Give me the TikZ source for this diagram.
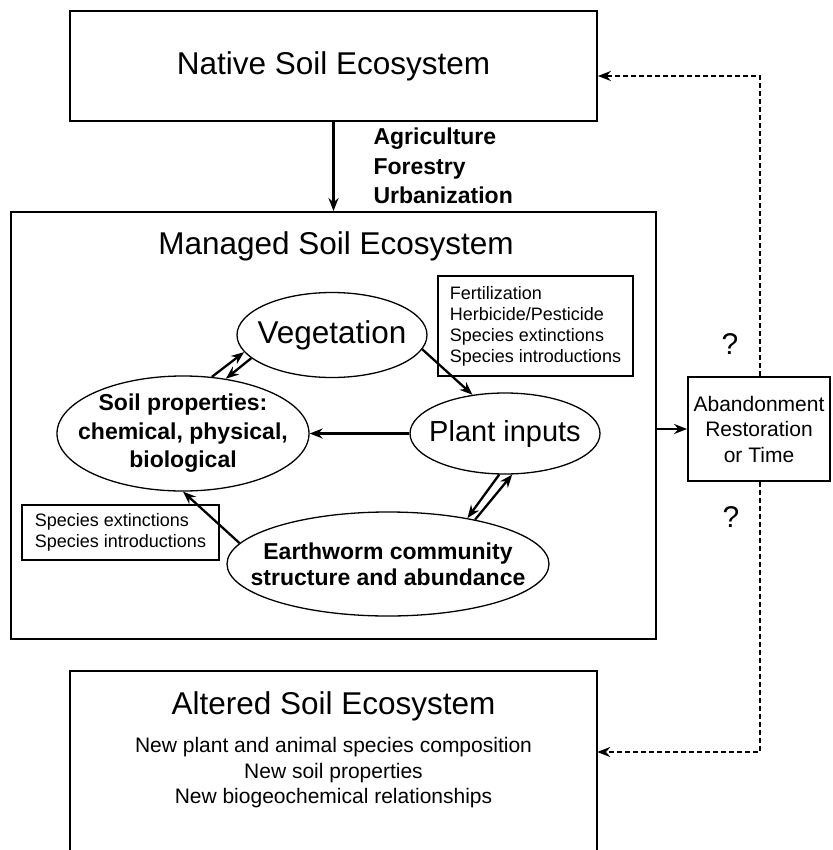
\documentclass[tikz,border=0pt]{standalone}
\usepackage{fontspec}
\setmainfont{Liberation Sans}
\usepackage{tikz}
\usetikzlibrary{arrows.meta, positioning, calc, shapes.geometric}
\newcommand{\bigsize}{\fontsize{31.5}{38}\selectfont}
\newcommand{\loopsize}{\fontsize{23}{28.5}\selectfont\bfseries}
\newcommand{\notesize}{\fontsize{18}{21}\selectfont}
\newcommand{\plainsize}{\fontsize{21}{25.5}\selectfont}
\tikzset{>={Stealth[length=13pt,width=10pt]}}
\tikzset{
	ecobox/.style={draw, line width=1.8pt, minimum width=527pt},
	loopnode/.style={draw, ellipse, line width=1.3pt, inner sep=0pt, align=center},
	notebox/.style={draw, line width=1.8pt, align=left, inner xsep=12pt, font=\notesize},
	flow/.style={->, line width=2.3pt},
	backflow/.style={dashed, dash pattern=on 5pt off 3pt, line width=2pt, ->},
}

\begin{document}
\begin{tikzpicture}[x=1pt, y=-1pt]
	\useasboundingbox (0,0) rectangle (832,850);

	% ecosystem boxes
	\node [ecobox, minimum height=110pt, font=\bigsize] (native) at (333.5,66) {Native Soil Ecosystem};
	\node [draw, line width=1.8pt, minimum width=645pt, minimum height=427pt] (managed) at (333.5,425.5) {};
	\node [anchor=base, font=\bigsize] (managedtitle) at (336,254) {Managed Soil Ecosystem};
	\node [minimum width=527pt, minimum height=190pt] (altered) at (333.5,766) {};
	\draw [line width=1.8pt] (altered.south west) |- (altered.north east) -- (altered.south east);
	\node [font=\bigsize] (alteredtitle) at (333.5,706) {Altered Soil Ecosystem};
	\node [align=center, font=\plainsize] (changes) at (333.5,773) {New plant and animal species composition\\New soil properties\\New biogeochemical relationships};

	\node [anchor=west, align=left, font={\fontsize{23}{29.5}\selectfont\bfseries}] (landuse) at (370,166) {Agriculture\\Forestry\\Urbanization};
	\draw [->, line width=3.5pt] (native) -- (managed);

	% loop inside the managed system
	\node [loopnode, minimum width=190pt, minimum height=85pt, inner xsep=-12pt, font=\bigsize\mdseries] (veg) at (332,335) {Vegetation};
	\node [loopnode, minimum width=190pt, minimum height=81pt, inner xsep=-12pt, font=\fontsize{29}{34}\selectfont\mdseries] (plant) at (505,433.5) {Plant inputs};
	\node [loopnode, minimum width=252pt, minimum height=115pt, inner xsep=-22pt, inner ysep=-3pt, font=\loopsize] (soil) at (183,433.5) {Soil properties:\\chemical, physical,\\biological};
	\node [loopnode, minimum width=322pt, minimum height=104pt, inner xsep=-25pt, font={\fontsize{23}{26}\selectfont\bfseries}] (worm) at (388,564) {Earthworm community\\structure and abundance};

	\node [notebox, minimum width=195pt, minimum height=100pt] (practices) at (535.5,326) {Fertilization\\Herbicide/Pesticide\\Species extinctions\\Species introductions};
	\node [notebox, minimum width=197pt, minimum height=55pt] (invasions) at (120.5,532.5) {Species extinctions\\Species introductions};

	\draw [flow] (veg.-9.5) -- (plant.130);
	\draw [flow] (plant) -- (soil);
	\draw [flow] (worm.172) -- (soil.south);
	\draw [flow] (soil.63) -- (veg.-169.6);
	\draw [flow] (veg.-164) -- (soil.52);
	\draw [flow] (worm.27) -- (plant.-80.5);
	\draw [flow] (plant.-98) -- (worm.30.4);

	% way back
	\node [draw, line width=1.8pt, minimum width=142pt, minimum height=104pt, inner sep=0pt, align=center, font=\plainsize] (abandon) at (759,429) {Abandonment\\Restoration\\or Time};
	\draw [flow] (abandon.west -| managed.east) -- (abandon.west);
	\node [font=\fontsize{30}{36}\selectfont] (qtop) at (730,344) {?};
	\node [font=\fontsize{30}{36}\selectfont] (qbottom) at (731,517) {?};

	\coordinate (topturn) at (760,76);
	\coordinate (bottomturn) at (760,752);
	\draw [backflow] (abandon.north -| topturn) -- (topturn) -- (topturn -| native.east);
	\draw [backflow] (abandon.south -| bottomturn) -- (bottomturn) -- (bottomturn -| altered.east);

\end{tikzpicture}
\end{document}
